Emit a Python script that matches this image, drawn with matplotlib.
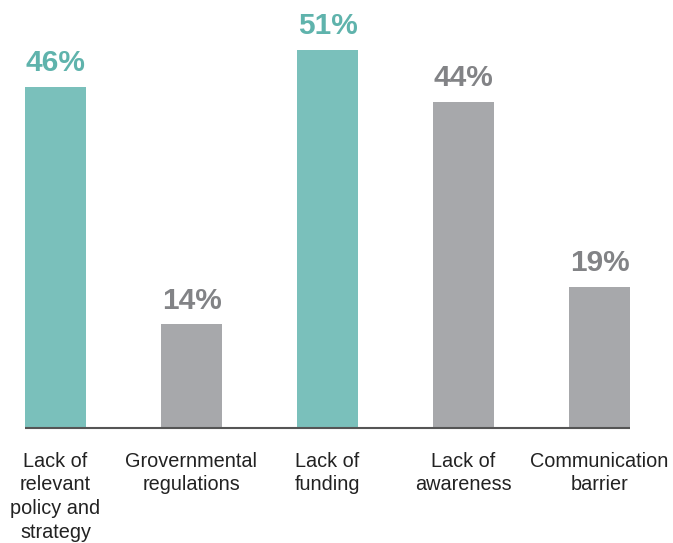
import matplotlib.pyplot as plt

categories = ["Lack of\nrelevant\npolicy and\nstrategy", "Grovernmental\nregulations",
              "Lack of\nfunding", "Lack of\nawareness", "Communication\nbarrier"]
values = [46, 14, 51, 44, 19]
highlight = [True, False, True, False, False]

teal_bar, teal_text = "#7ac0bb", "#5fb3ac"
gray_bar, gray_text = "#a7a8ab", "#828386"

fig = plt.figure(figsize=(6.73, 5.43), dpi=100)
ax = fig.add_axes([0, 115 / 543, 1, 428 / 543])

pos = list(range(len(values)))
bar_colors = [teal_bar if h else gray_bar for h in highlight]
txt_colors = [teal_text if h else gray_text for h in highlight]
bw = 61 / 136
ax.bar(pos, values, width=bw, color=bar_colors)

for x, v, c in zip(pos, values, txt_colors):
    ax.annotate(f"{v}%", (x, v), xytext=(0, 7), textcoords="offset points",
                ha="center", va="bottom", fontsize=21.5, fontweight="bold",
                color=c, family="Liberation Sans")

ax.plot([-bw / 2, pos[-1] + bw / 2], [0, 0], color="#555555", lw=1.5,
        solid_capstyle="butt", clip_on=False)

ax.set_xlim(-55.5 / 136, (673 - 55.5) / 136)
ax.set_ylim(0, 428 / 7.41)
ax.set_xticks(pos)
ax.set_xticklabels(categories, fontsize=14.3, family="Liberation Sans",
                   color="#222222", linespacing=1.32)
ax.tick_params(axis="x", length=0, pad=17)
ax.set_yticks([])
for s in ax.spines.values():
    s.set_visible(False)

fig.savefig("out.png", dpi=100)
